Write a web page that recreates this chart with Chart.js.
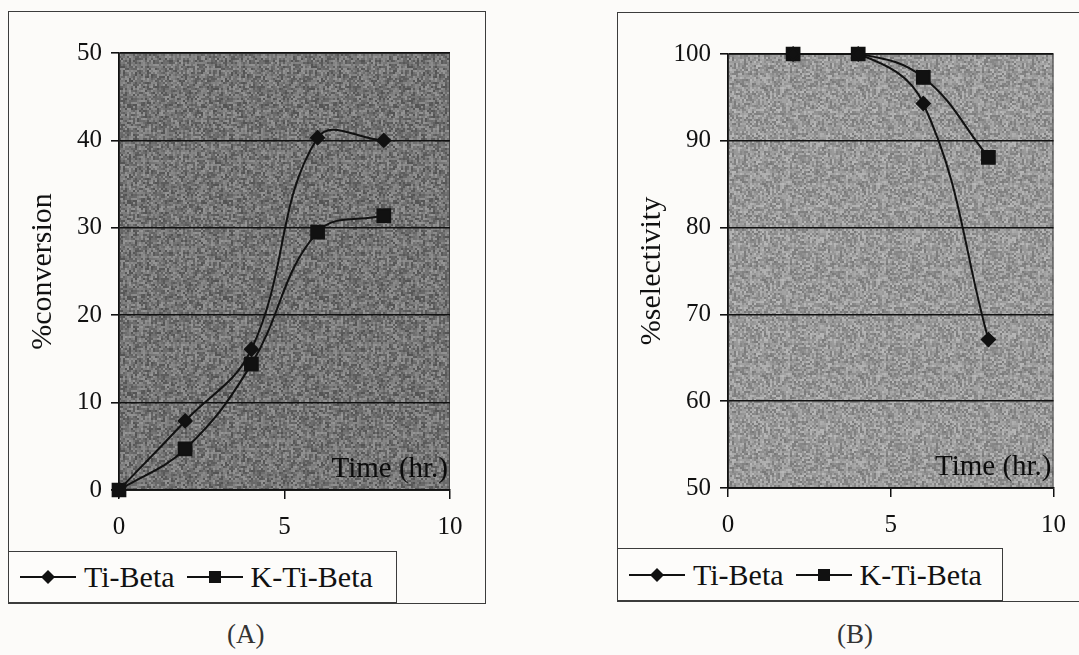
<!DOCTYPE html>
<html>
<head>
<meta charset="utf-8">
<script src="https://cdn.jsdelivr.net/npm/chart.js@4.4.1/dist/chart.umd.min.js"></script>
<style>
  body { margin:0; width:1079px; height:655px; overflow:hidden; position:relative; background:#fcfbf9;
         font-family:"Liberation Serif","Times New Roman",serif; color:#111; }
  .frame { position:absolute; border:1.5px solid #3c3c3c; box-sizing:border-box; }
  .legend { position:absolute; border:1.5px solid #3c3c3c; box-sizing:border-box; display:flex; align-items:center;
            font-size:30px; white-space:nowrap; background:#fdfcfa; color:#111; }
  .legend svg { display:block; }
  canvas { position:absolute; }
  .cap { position:absolute; top:619px; font-size:27px; color:#333; }
</style>
</head>
<body>
<div class="frame" style="left:8px;top:11px;width:478px;height:593px"></div>
<div class="frame" style="left:617px;top:12px;width:480px;height:590px"></div>
<canvas id="chartA" width="476" height="538" style="left:9px;top:12px"></canvas>
<canvas id="chartB" width="461" height="535" style="left:618px;top:13px"></canvas>
<div class="legend" id="legendA" style="left:8px;top:551px;width:389px;height:52px"></div>
<div class="legend" id="legendB" style="left:617px;top:548px;width:386px;height:53px"></div>
<div class="cap" style="left:227px">(A)</div>
<div class="cap" style="left:837px">(B)</div>
<script>
// time (hr.) and measured values
const timeA = [0, 2, 4, 6, 8];
const convTiBeta = [0, 7.9, 16.1, 40.3, 40.0];
const convKTiBeta = [0, 4.7, 14.4, 29.5, 31.4];

const timeB = [2, 4, 6, 8];
const selTiBeta = [100, 100, 94.3, 67.1];
const selKTiBeta = [100, 100, 97.3, 88.1];

const xTicks = [0, 5, 10];
const yTicksA = [0, 10, 20, 30, 40, 50];
const yTicksB = [50, 60, 70, 80, 90, 100];
const seriesNames = ["Ti-Beta", "K-Ti-Beta"];

const serif = "'Liberation Serif', 'Times New Roman', serif";
const ink = "#111";

// grainy grey fill like the scanned plot area
function grain(base, spread, seed) {
  const size = 96, c = document.createElement("canvas");
  c.width = c.height = size;
  const g = c.getContext("2d");
  let s = seed;
  for (let y = 0; y < size; y += 2) {
    for (let x = 0; x < size; x += 2) {
      s = (s * 1103515245 + 12345) & 0x7fffffff;
      const v = Math.round(base + ((s >> 8) % (2 * spread + 1)) - spread);
      g.fillStyle = "rgb(" + v + "," + v + "," + v + ")";
      g.fillRect(x, y, 2, 2);
    }
  }
  return c;
}

const plotFill = {
  id: "plotFill",
  beforeDraw(chart, args, opts) {
    const a = chart.chartArea, ctx = chart.ctx;
    ctx.save();
    ctx.fillStyle = ctx.createPattern(opts.tile, "repeat");
    ctx.fillRect(a.left, a.top, a.right - a.left, a.bottom - a.top);
    ctx.strokeStyle = "#444";
    ctx.lineWidth = 1;
    ctx.strokeRect(a.left + 0.5, a.top + 0.5, a.right - a.left - 1, a.bottom - a.top);
    ctx.restore();
  },
  afterDatasetsDraw(chart) {
    const a = chart.chartArea, ctx = chart.ctx;
    ctx.save();
    ctx.font = "29px " + serif;
    ctx.fillStyle = "#0c0c0c";
    ctx.textAlign = "right";
    ctx.textBaseline = "alphabetic";
    ctx.fillText("Time (hr.)", a.right - 2, a.bottom - 13);
    ctx.restore();
  }
};

function series(xs, ys) {
  return xs.map((x, i) => ({ x: x, y: ys[i] }));
}

function makeChart(id, xs, ysTi, ysK, yTicks, yTitle, tile, padRight, padTop) {
  const tickFont = { family: serif, size: 25 };
  return new Chart(document.getElementById(id), {
    type: "line",
    data: {
      datasets: [{
        label: seriesNames[0],
        data: series(xs, ysTi),
        borderColor: ink, backgroundColor: ink, borderWidth: 2,
        pointStyle: "rectRot", pointRadius: 6.5, pointHoverRadius: 6.5,
        tension: 0.4, clip: false
      }, {
        label: seriesNames[1],
        data: series(xs, ysK),
        borderColor: ink, backgroundColor: ink, borderWidth: 2,
        pointStyle: "rect", pointRadius: 9, pointHoverRadius: 9,
        tension: 0.4, clip: false
      }]
    },
    options: {
      responsive: false,
      animation: false,
      layout: { padding: { top: padTop, right: padRight, left: 0, bottom: 0 } },
      plugins: { legend: { display: false }, tooltip: { enabled: false }, plotFill: { tile: tile } },
      scales: {
        x: {
          type: "linear",
          min: xTicks[0], max: xTicks[xTicks.length - 1],
          afterBuildTicks: s => { s.ticks = xTicks.map(v => ({ value: v })); },
          afterFit: s => { s.height = 60; },
          border: { color: ink, width: 1.5 },
          grid: { drawOnChartArea: false, color: ink, tickLength: 9, lineWidth: 1.5 },
          ticks: { font: tickFont, color: "#111", padding: 13, maxRotation: 0 }
        },
        y: {
          min: yTicks[0], max: yTicks[yTicks.length - 1],
          afterBuildTicks: s => { s.ticks = yTicks.map(v => ({ value: v })); },
          afterFit: s => { s.width = 110; },
          border: { color: ink, width: 1.5 },
          grid: { color: ink, tickLength: 8, lineWidth: 1.6 },
          ticks: { font: tickFont, color: "#111", padding: 9 },
          title: { display: true, text: yTitle, font: { family: serif, size: 30 }, color: "#111", padding: { top: 16 } }
        }
      }
    },
    plugins: [plotFill]
  });
}

makeChart("chartA", timeA, convTiBeta, convKTiBeta, yTicksA, "%conversion", grain(116, 34, 7), 35, 41);
makeChart("chartB", timeB, selTiBeta, selKTiBeta, yTicksB, "%selectivity", grain(152, 32, 19), 22, 41);

// legend boxes: line with marker, then the series name
function legendKey(shape) {
  const mark = shape === "diamond"
    ? '<polygon points="28,3 35,10 28,17 21,10" fill="' + ink + '"/>'
    : '<rect x="22" y="4" width="12" height="12" fill="' + ink + '"/>';
  return '<svg width="56" height="20"><line x1="0" y1="10" x2="56" y2="10" stroke="' + ink + '" stroke-width="2"/>' + mark + '</svg>';
}
function fillLegend(id) {
  const el = document.getElementById(id);
  el.innerHTML =
    '<span style="margin-left:11px">' + legendKey("diamond") + '</span>' +
    '<span style="margin-left:8px">' + seriesNames[0] + '</span>' +
    '<span style="margin-left:12px">' + legendKey("square") + '</span>' +
    '<span style="margin-left:8px">' + seriesNames[1] + '</span>';
}
fillLegend("legendA");
fillLegend("legendB");
</script>
</body>
</html>
